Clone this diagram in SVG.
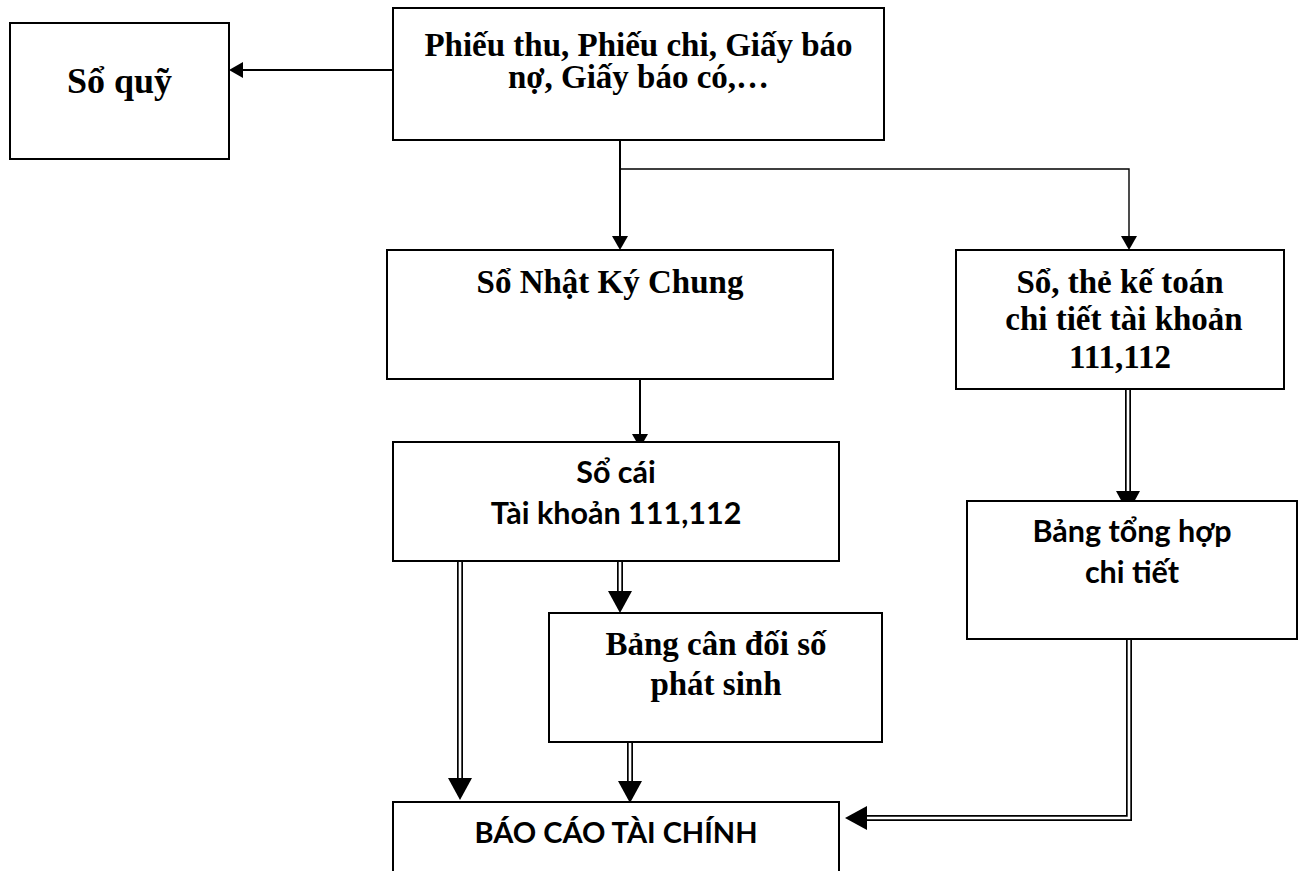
<svg xmlns="http://www.w3.org/2000/svg" width="1311" height="871" viewBox="0 0 1311 871">
  <style>
    .box { fill: #ffffff; stroke: #000000; stroke-width: 2; }
    .serif { font-family: "Liberation Serif", "Times New Roman", serif; font-weight: bold; font-size: 33px; fill: #000000; text-anchor: middle; }
    .sans { font-family: Lato, "Open Sans", sans-serif; font-weight: bold; font-size: 30.5px; fill: #000000; text-anchor: middle; }
    .single { fill: none; stroke: #000000; stroke-width: 2; }
    .thin { fill: none; stroke: #000000; stroke-width: 1.4; }
    .dbl-outer { fill: none; stroke: #000000; stroke-width: 6; stroke-linejoin: miter; }
    .dbl-inner { fill: none; stroke: #ffffff; stroke-width: 2.6; stroke-linejoin: miter; }
  </style>
  <defs>
    <marker id="head" viewBox="0 -8 14 16" refX="0" refY="0" markerWidth="14" markerHeight="16" markerUnits="userSpaceOnUse" orient="auto" overflow="visible">
      <path d="M0,-8 L14,0 L0,8 Z" fill="#000000"/>
    </marker>
    <marker id="head-dbl" viewBox="0 -12 22 24" refX="0" refY="0" markerWidth="22" markerHeight="24" markerUnits="userSpaceOnUse" orient="auto" overflow="visible">
      <path d="M0,-12 L22,0 L0,12 Z" fill="#000000"/>
    </marker>
  </defs>
  <rect width="1311" height="871" fill="#ffffff"/>

  <g id="connectors">
    <!-- single-line flows -->
    <path class="single" d="M393,70 L243,70" marker-end="url(#head)"/>
    <path class="single" d="M620,140 L620,236" marker-end="url(#head)"/>
    <path class="thin" d="M620,169 L1129,169 L1129,236" marker-end="url(#head)"/>
    <path class="single" d="M640,379 L640,434" marker-end="url(#head)"/>
    <!-- double-line flows -->
    <path class="dbl-outer" d="M460,562 L460,778"/>
    <path class="dbl-inner" d="M460,562 L460,778" marker-end="url(#head-dbl)"/>
    <path class="dbl-outer" d="M620,562 L620,591"/>
    <path class="dbl-inner" d="M620,562 L620,591" marker-end="url(#head-dbl)"/>
    <path class="dbl-outer" d="M630,743 L630,781"/>
    <path class="dbl-inner" d="M630,743 L630,781" marker-end="url(#head-dbl)"/>
    <path class="dbl-outer" d="M1128,390 L1128,491"/>
    <path class="dbl-inner" d="M1128,390 L1128,491" marker-end="url(#head-dbl)"/>
    <path class="dbl-outer" d="M1129,640 L1129,818 L867,818"/>
    <path class="dbl-inner" d="M1129,640 L1129,818 L867,818" marker-end="url(#head-dbl)"/>
  </g>

  <g id="so-quy">
    <rect class="box" x="10" y="23" width="219" height="136"/>
    <text class="serif" x="119.5" y="93" style="font-size:36px">Sổ quỹ</text>
  </g>

  <g id="chung-tu">
    <rect class="box" x="393" y="8" width="491" height="132"/>
    <text class="serif" x="638.5" y="56">Phiếu thu, Phiếu chi, Giấy báo</text>
    <text class="serif" x="638.5" y="88">nợ, Giấy báo có,…</text>
  </g>

  <g id="nhat-ky-chung">
    <rect class="box" x="387" y="250" width="446" height="129"/>
    <text class="serif" x="610" y="293">Sổ Nhật Ký Chung</text>
  </g>

  <g id="so-the-chi-tiet">
    <rect class="box" x="956" y="250" width="328" height="139"/>
    <text class="serif" x="1120" y="293">Sổ, thẻ kế toán</text>
    <text class="serif" x="1124" y="330">chi tiết tài khoản</text>
    <text class="serif" x="1120" y="368">111,112</text>
  </g>

  <g id="so-cai">
    <rect class="box" x="393" y="442" width="446" height="119"/>
    <text class="sans" x="616" y="483">Sổ cái</text>
    <text class="sans" x="616" y="524">Tài khoản 111,112</text>
  </g>

  <g id="bang-can-doi">
    <rect class="box" x="549" y="613" width="333" height="129"/>
    <text class="serif" x="716" y="655">Bảng cân đối số</text>
    <text class="serif" x="716" y="695">phát sinh</text>
  </g>

  <g id="bang-tong-hop">
    <rect class="box" x="967" y="501" width="330" height="138"/>
    <text class="sans" x="1132" y="542">Bảng tổng hợp</text>
    <text class="sans" x="1132" y="583">chi tiết</text>
  </g>

  <g id="bao-cao-tai-chinh">
    <rect class="box" x="393" y="802" width="446" height="90"/>
    <text class="sans" x="616" y="843" style="font-size:29px">BÁO CÁO TÀI CHÍNH</text>
  </g>
</svg>
